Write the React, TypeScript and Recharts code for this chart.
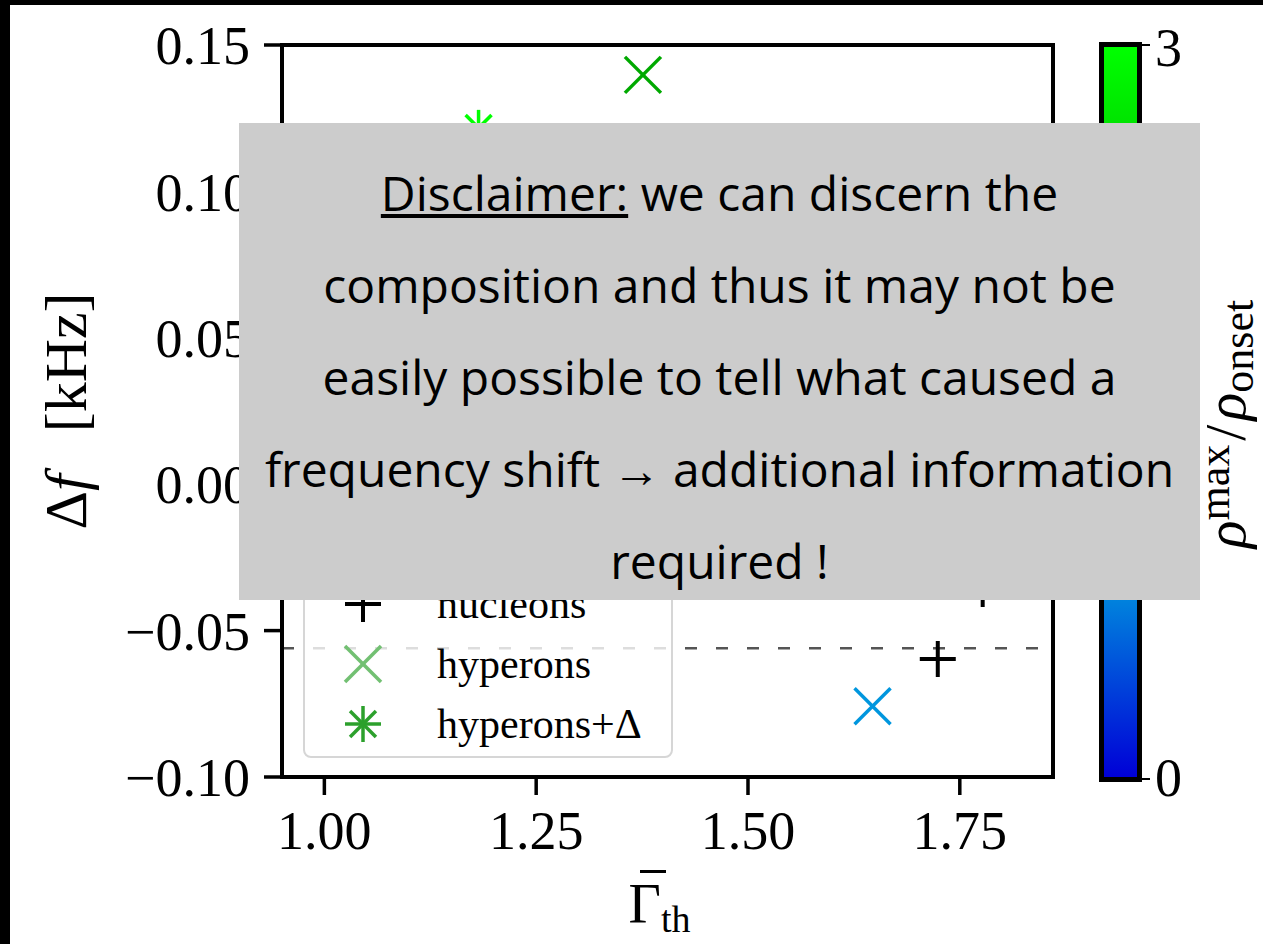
import React from "react";
import {
  ScatterChart,
  Scatter,
  XAxis,
  YAxis,
  ReferenceLine,
  ReferenceArea,
  Legend,
} from "recharts";

// gamma_th vs frequency shift, colour = rho_max / rho_onset
const nucleonsX = [1.724, 1.777];
const nucleonsY = [-0.0597, -0.0358];

const hyperonsX = [1.376, 1.647];
const hyperonsY = [0.1398, -0.0758];
const hyperonsRatio = [2.0, 0.84];

const hyperonsDeltaX = [1.182];
const hyperonsDeltaY = [0.1217];
const hyperonsDeltaRatio = [3.0];

const xTicks = [1.0, 1.25, 1.5, 1.75];
const yTicks = [-0.1, -0.05, 0.0, 0.05, 0.1, 0.15];
const xDomain = [0.95, 1.86];
const yDomain = [-0.1, 0.15];
const shiftLine = -0.056;
const ratioRange = [0, 3];

const legendNames = ["nucleons", "hyperons", "hyperons+\u0394"];

const disclaimerLines = [
  "composition and thus it may not be",
  "easily possible to tell what caused a",
  "frequency shift \u2192 additional information",
  "required !",
];

// custom blue -> green map
const cmapStops: [number, number[]][] = [
  [0, [0, 0, 215]],
  [0.28, [0, 150, 222]],
  [0.65, [0, 165, 0]],
  [1, [0, 255, 0]],
];

function cmap(v: number) {
  const t = Math.max(0, Math.min(1, (v - ratioRange[0]) / (ratioRange[1] - ratioRange[0])));
  for (let i = 1; i < cmapStops.length; i++) {
    const [t1, c1] = cmapStops[i];
    const [t0, c0] = cmapStops[i - 1];
    if (t <= t1) {
      const f = (t - t0) / (t1 - t0);
      const c = c0.map((a, k) => Math.round(a + (c1[k] - a) * f));
      return `rgb(${c[0]},${c[1]},${c[2]})`;
    }
  }
  return "rgb(0,255,0)";
}

const nucleons = nucleonsX.map((x, i) => ({ x, y: nucleonsY[i] }));
const hyperons = hyperonsX.map((x, i) => ({ x, y: hyperonsY[i], c: cmap(hyperonsRatio[i]) }));
const hyperonsDelta = hyperonsDeltaX.map((x, i) => ({
  x,
  y: hyperonsDeltaY[i],
  c: cmap(hyperonsDeltaRatio[i]),
}));

const SERIF = "'Liberation Serif', 'DejaVu Serif', serif";

const PlusMark = ({ cx, cy, color = "#000", r = 18 }: any) => (
  <g stroke={color} strokeWidth={4}>
    <line x1={cx - r} y1={cy} x2={cx + r} y2={cy} />
    <line x1={cx} y1={cy - r} x2={cx} y2={cy + r} />
  </g>
);

const XMark = ({ cx, cy, color, r = 18 }: any) => (
  <g stroke={color} strokeWidth={3.5}>
    <line x1={cx - r} y1={cy - r} x2={cx + r} y2={cy + r} />
    <line x1={cx - r} y1={cy + r} x2={cx + r} y2={cy - r} />
  </g>
);

const StarMark = ({ cx, cy, color, r = 18 }: any) => {
  const d = r * 0.72;
  return (
    <g stroke={color} strokeWidth={3.5}>
      <line x1={cx - r} y1={cy} x2={cx + r} y2={cy} />
      <line x1={cx} y1={cy - r} x2={cx} y2={cy + r} />
      <line x1={cx - d} y1={cy - d} x2={cx + d} y2={cy + d} />
      <line x1={cx - d} y1={cy + d} x2={cx + d} y2={cy - d} />
    </g>
  );
};

const fmtY = (v: number) => (v < 0 ? "\u2212" + Math.abs(v).toFixed(2) : v.toFixed(2));

const LegendBox = () => {
  const marks = [
    <PlusMark cx={20} cy={20} color="#000" />,
    <XMark cx={20} cy={20} color="#72c072" />,
    <StarMark cx={20} cy={20} color="#2ca02c" />,
  ];
  return (
    <div
      style={{
        width: 370,
        height: 192,
        boxSizing: "border-box",
        border: "2px solid #d6d6d6",
        borderRadius: 8,
        background: "rgba(255,255,255,0.8)",
        paddingTop: 6,
      }}
    >
      {legendNames.map((name, i) => (
        <div key={name} style={{ display: "flex", alignItems: "center", height: 60 }}>
          <svg width={40} height={40} style={{ marginLeft: 38, marginRight: 54 }}>
            {marks[i]}
          </svg>
          <span style={{ fontFamily: SERIF, fontSize: 42, color: "#000" }}>{name}</span>
        </div>
      ))}
    </div>
  );
};

export default function App() {
  return (
    <div
      style={{
        position: "fixed",
        left: 0,
        top: 0,
        width: 1263,
        height: 944,
        background: "#000",
        overflow: "hidden",
      }}
    >
      <div style={{ position: "absolute", left: 10, top: 5, right: 0, bottom: 0, background: "#fff" }} />
      <div style={{ position: "absolute", left: 0, top: 0 }}>
        <ScatterChart width={1263} height={944} margin={{ top: 45, right: 210, bottom: 0, left: 0 }}>
          <XAxis
            type="number"
            dataKey="x"
            domain={xDomain}
            ticks={xTicks}
            allowDataOverflow
            height={167}
            tickFormatter={(v: number) => v.toFixed(2)}
            axisLine={{ stroke: "#000", strokeWidth: 4 }}
            tickLine={{ stroke: "#000", strokeWidth: 3.5 }}
            tickSize={18}
            tickMargin={16}
            tick={{ fill: "#000", fontSize: 54, fontFamily: SERIF }}
            label={{
              content: ({ viewBox }: any) => (
                <text
                  x={viewBox.x + viewBox.width / 2 - 8}
                  y={viewBox.y + 146}
                  textAnchor="middle"
                  fontFamily={SERIF}
                  fontSize={56}
                  fill="#000"
                >
                  {"\u0393"}
                  <tspan fontSize={38} dy={9}>th</tspan>
                </text>
              ),
            }}
          />
          <YAxis
            type="number"
            dataKey="y"
            domain={yDomain}
            ticks={yTicks}
            allowDataOverflow
            width={282}
            tickFormatter={fmtY}
            axisLine={{ stroke: "#000", strokeWidth: 4 }}
            tickLine={{ stroke: "#000", strokeWidth: 3.5 }}
            tickSize={18}
            tickMargin={14}
            tick={{ fill: "#000", fontSize: 54, fontFamily: SERIF }}
            label={{
              content: ({ viewBox }: any) => {
                const cy = viewBox.y + viewBox.height / 2;
                return (
                  <text
                    x={86}
                    y={cy}
                    transform={`rotate(-90, 86, ${cy})`}
                    textAnchor="middle"
                    fontFamily={SERIF}
                    fontSize={60}
                    fill="#000"
                  >
                    {"\u0394"}
                    <tspan fontStyle="italic">f</tspan>
                    {"\u2002\u2009[kHz]"}
                  </text>
                );
              },
            }}
          />
          <ReferenceLine
            y={shiftLine}
            stroke="#555"
            strokeWidth={2.5}
            strokeDasharray="12 19"
          />
          <Scatter
            name="nucleons"
            data={nucleons}
            isAnimationActive={false}
            shape={(p: any) => <PlusMark cx={p.cx} cy={p.cy} color="#000" />}
          />
          <Scatter
            name="hyperons"
            data={hyperons}
            isAnimationActive={false}
            shape={(p: any) => <XMark cx={p.cx} cy={p.cy} color={p.payload.c} />}
          />
          <Scatter
            name="hyperons+Δ"
            data={hyperonsDelta}
            isAnimationActive={false}
            shape={(p: any) => <StarMark cx={p.cx} cy={p.cy} color={p.payload.c} />}
          />
          <ReferenceArea
            x1={xDomain[0]}
            x2={xDomain[1]}
            y1={yDomain[0]}
            y2={yDomain[1]}
            fill="none"
            stroke="#000"
            strokeWidth={4}
          />
          <Legend
            layout="vertical"
            align="center"
            verticalAlign="middle"
            content={() => <LegendBox />}
            wrapperStyle={{ position: "absolute", left: 303, top: 566, width: 370, height: 192 }}
          />
        </ScatterChart>
      </div>

      {/* macron over Gamma */}
      <div
        style={{ position: "absolute", left: 640, top: 870, width: 26, height: 3, background: "#000" }}
      />

      {/* colorbar */}
      <div
        style={{
          position: "absolute",
          left: 1099,
          top: 42,
          width: 43,
          height: 740,
          boxSizing: "border-box",
          border: "5px solid #000",
          background: `linear-gradient(to top, ${cmapStops
            .map(([t]) => `${cmap(ratioRange[0] + t * (ratioRange[1] - ratioRange[0]))} ${t * 100}%`)
            .join(", ")})`,
        }}
      />
      {ratioRange.map((v, i) => (
        <React.Fragment key={v}>
          <div
            style={{
              position: "absolute",
              left: 1142,
              top: i === 0 ? 778 : 44,
              width: 8,
              height: 2,
              background: "#000",
            }}
          />
          <div
            style={{
              position: "absolute",
              left: 1155,
              top: i === 0 ? 746 : 16,
              fontFamily: SERIF,
              fontSize: 54,
              lineHeight: "64px",
              color: "#000",
            }}
          >
            {v}
          </div>
        </React.Fragment>
      ))}
      <svg style={{ position: "absolute", left: 1180, top: 200, overflow: "visible" }} width={83} height={450}>
        <text
          x={65}
          y={224}
          transform="rotate(-90, 65, 224)"
          textAnchor="middle"
          fontFamily={SERIF}
          fontSize={58}
          fill="#000"
        >
          <tspan fontStyle="italic">{"\u03c1"}</tspan>
          <tspan fontSize={44} dy={-16}>max</tspan>
          <tspan dy={16} dx={4}>/</tspan>
          <tspan fontStyle="italic" dx={4}>{"\u03c1"}</tspan>
          <tspan fontSize={44} dy={8}>onset</tspan>
        </text>
      </svg>

      {/* disclaimer overlay */}
      <div
        style={{
          position: "absolute",
          left: 239,
          top: 123,
          width: 961,
          height: 477,
          background: "#cccccc",
          fontFamily: "'Open Sans', 'Noto Sans', sans-serif",
          fontSize: 48,
          lineHeight: "92px",
          textAlign: "center",
          color: "#000",
          paddingTop: 24,
          boxSizing: "border-box",
        }}
      >
        <div>
          <span style={{ textDecoration: "underline" }}>Disclaimer:</span> we can discern the
        </div>
        {disclaimerLines.map((l) => (
          <div key={l} style={{ whiteSpace: "nowrap" }}>
            {l}
          </div>
        ))}
      </div>
    </div>
  );
}
